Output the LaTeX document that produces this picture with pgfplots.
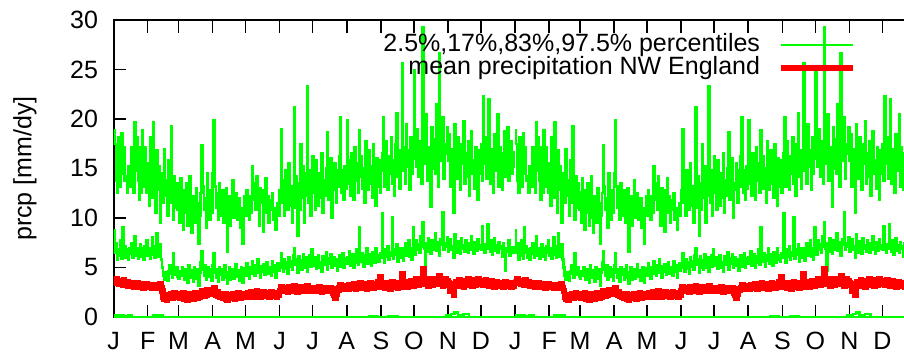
\documentclass[border=0pt]{standalone}
\usepackage{fontspec}
\setmainfont{Liberation Sans}
\usepackage{pgfplots}
\usepackage{pgfplotstable}
\pgfplotsset{compat=1.18}
\definecolor{pgreen}{RGB}{0,255,0}
\definecolor{pred}{RGB}{255,0,0}

% 97.5% percentile, daily, one year
\pgfplotstableread{
y
18.9
17.5
13.8
12.5
18.2
14.2
13.2
18.6
14.5
17.2
13.8
14.2
12.5
15.2
14.2
13.2
17.2
15.5
12.5
19.7
14.8
18.2
13.8
11.8
17.2
12.5
18.9
13.2
17.2
14.8
12.5
15.5
11.2
18.2
13.8
12.0
19.7
14.2
10.5
16.8
12.8
15.2
9.5
14.5
13.2
11.5
17.0
12.2
13.8
10.2
15.8
11.5
19.3
12.8
9.8
14.2
11.0
13.5
10.8
12.6
9.5
14.0
11.2
8.8
12.8
10.5
13.5
9.2
11.8
14.2
10.0
8.5
12.2
10.8
9.5
13.0
11.5
7.4
10.2
12.5
17.4
13.2
10.8
12.0
9.0
14.5
11.2
9.8
12.8
10.5
14.5
19.9
13.2
11.0
12.5
9.8
13.5
10.2
11.8
12.8
9.5
11.5
13.0
6.6
10.8
12.2
9.2
11.5
13.8
10.0
11.2
12.5
9.8
10.5
12.0
9.0
11.0
7.4
10.8
12.2
10.2
12.8
11.0
9.8
12.2
10.5
15.2
11.8
13.5
10.8
14.2
12.0
9.2
13.0
11.5
12.8
8.6
11.2
14.0
10.5
12.2
9.5
11.8
10.8
12.5
9.8
11.0
8.8
10.5
11.5
10.2
12.8
19.0
11.5
13.8
10.2
14.8
12.2
10.8
15.5
11.2
13.2
9.5
12.5
21.2
11.0
14.2
8.2
13.5
10.8
17.5
12.0
15.2
9.5
14.5
12.2
23.3
11.5
14.8
10.2
13.5
16.2
12.5
10.8
15.8
13.0
11.2
14.5
12.0
16.5
10.5
13.8
12.2
15.0
18.7
11.8
14.2
16.0
10.0
13.5
12.8
15.5
11.5
14.8
13.2
16.2
20.2
12.5
14.8
11.8
15.2
13.0
19.9
13.5
15.8
12.2
16.5
14.0
11.8
17.2
13.8
15.5
12.5
18.9
14.2
16.2
13.0
15.0
11.5
17.8
14.5
12.8
16.8
13.5
15.2
12.0
17.5
14.8
11.2
16.0
13.2
15.8
12.5
14.8
16.5
20.2
13.2
17.8
15.0
12.8
16.2
14.5
18.2
13.5
15.8
12.2
17.5
20.6
14.2
16.8
13.0
15.5
25.6
14.8
17.2
13.5
19.5
15.2
16.8
12.8
18.2
14.5
16.0
24.9
17.5
15.2
19.0
14.2
17.8
16.0
13.5
29.3
18.5
15.5
20.5
13.8
17.2
16.8
11.1
19.2
15.0
18.0
14.5
21.5
16.2
13.2
26.6
18.8
15.8
20.2
14.0
17.5
16.5
19.2
15.8
18.5
13.2
17.0
14.8
10.5
19.5
16.2
14.0
18.2
15.2
12.8
17.5
15.5
19.8
13.5
16.5
14.2
17.8
12.2
16.0
18.8
14.5
15.8
13.0
17.2
15.0
11.8
16.8
14.5
17.5
13.8
22.3
15.5
18.2
14.0
16.8
22.0
13.5
17.0
15.2
12.5
18.5
14.8
16.2
20.5
13.2
17.2
15.0
12.8
16.5
18.8
14.2
15.5
19.2
13.8
16.0
17.8
14.5
15.2
16.8
}\tabhi

% 83% percentile
\pgfplotstableread{
y
8.8
6.5
7.5
5.8
6.8
6.2
7.8
5.9
9.1
6.5
7.2
6.0
6.8
5.8
7.0
6.4
7.5
6.0
6.8
8.2
6.2
7.0
5.9
6.6
7.4
6.1
6.9
5.8
7.2
6.5
7.8
6.2
7.0
5.9
6.8
8.1
6.3
6.0
7.2
8.5
6.1
6.6
7.4
5.8
5.0
4.2
3.8
4.5
4.2
3.7
4.6
5.2
4.4
4.0
6.4
4.8
4.3
5.0
4.1
3.9
4.6
4.2
5.0
4.4
3.8
4.8
4.5
3.5
5.2
4.0
4.7
4.3
3.6
5.0
4.4
3.9
4.8
3.2
4.5
5.5
6.6
4.8
4.2
5.2
3.8
4.6
5.0
4.1
4.8
3.7
5.2
6.4
4.5
4.0
4.8
3.6
5.0
4.3
4.8
3.8
4.6
5.2
4.0
3.4
4.5
5.0
3.8
4.4
4.8
3.9
4.6
5.3
4.1
4.7
3.7
4.5
5.0
3.5
4.3
4.9
4.2
5.4
4.6
3.9
5.0
4.4
5.6
4.8
4.2
5.2
4.5
5.8
4.7
4.0
5.1
4.6
5.3
4.3
4.9
5.5
4.4
5.0
4.8
4.2
5.6
4.6
5.2
4.0
4.9
5.4
4.7
5.0
6.4
5.2
4.6
5.8
4.9
5.5
4.4
6.0
5.1
5.6
4.8
6.2
7.0
5.3
5.8
4.5
6.1
5.0
5.7
4.8
6.3
5.4
5.0
6.0
4.6
5.5
6.2
5.1
6.8
5.8
5.2
6.0
4.9
5.6
6.2
5.0
5.5
4.6
6.1
5.3
5.8
6.5
4.8
5.9
5.4
6.3
5.0
5.7
6.0
5.2
5.8
4.7
5.5
6.2
5.1
5.6
6.4
5.0
5.9
5.4
6.0
5.4
6.6
5.2
5.8
6.3
5.0
6.1
5.5
6.8
5.3
9.1
6.0
5.6
6.4
5.1
6.2
5.7
6.9
5.4
6.3
5.8
5.2
6.5
6.0
5.5
7.0
5.8
6.2
5.6
6.4
6.0
10.5
6.4
5.5
6.8
6.1
7.2
5.8
6.5
6.2
10.1
5.9
6.8
6.3
7.4
5.6
6.6
7.0
6.0
6.9
5.7
6.7
7.5
6.2
6.4
7.8
6.1
6.9
5.8
9.1
7.0
6.3
7.8
6.8
7.4
6.5
8.2
7.1
9.6
6.9
4.7
7.5
6.6
8.0
7.2
6.4
7.8
6.8
7.3
8.5
6.7
7.6
7.0
6.2
7.9
7.3
10.6
6.8
7.5
7.1
8.1
6.6
7.4
7.9
6.8
7.2
6.0
8.4
7.0
6.5
7.7
7.1
6.4
8.0
6.9
7.3
6.6
7.8
7.2
6.5
7.5
6.8
8.2
7.0
6.4
7.6
7.1
6.7
7.9
6.9
7.3
6.8
9.2
7.0
6.5
7.4
6.9
9.4
7.2
6.6
7.8
6.3
7.1
8.0
6.7
7.3
6.5
7.6
6.9
7.2
6.1
7.5
6.8
4.7
7.0
6.6
7.8
6.2
7.1
6.8
6.5
7.2
}\tabmid

% mean precipitation
\pgfplotstableread{
y
3.8
3.5
3.9
3.4
3.6
3.3
3.7
3.4
3.2
3.8
3.5
3.3
3.6
3.1
3.4
3.2
3.5
3.3
3.0
3.4
3.2
3.5
3.1
3.3
3.0
3.4
3.2
2.9
3.3
3.1
3.4
3.2
3.0
3.3
3.1
2.9
3.2
3.0
3.3
3.1
2.9
3.2
3.4
3.0
2.6
2.0
1.8
2.1
1.7
1.9
2.2
2.0
2.3
1.9
2.2
2.4
2.1
2.0
2.3
2.1
1.9
2.3
2.0
2.4
1.8
2.2
2.0
1.7
2.1
2.3
1.9
2.2
1.8
2.0
2.4
2.1
1.9
2.2
2.0
2.3
2.6
2.4
2.1
2.5
2.2
2.7
2.4
2.3
2.6
2.5
2.6
3.0
2.4
2.2
2.5
2.1
2.3
2.0
2.2
1.9
2.1
2.3
1.8
1.7
2.0
2.2
1.9
2.1
2.3
2.0
1.8
2.2
2.0
2.4
2.1
1.9
2.3
2.0
2.2
2.1
2.3
2.0
2.4
2.2
2.1
2.5
2.3
2.0
2.4
2.2
2.6
2.1
2.3
2.0
2.4
2.2
2.5
2.1
2.3
2.4
2.2
2.0
2.3
2.5
2.1
2.4
2.2
2.3
2.0
2.4
2.2
2.6
3.1
2.8
2.6
3.0
2.7
2.9
2.5
3.1
2.8
2.6
3.0
2.7
3.2
2.8
2.9
2.5
3.0
2.7
3.1
2.8
2.6
3.0
2.9
2.7
3.2
2.8
2.6
3.0
2.9
2.7
3.0
2.8
2.6
2.9
2.7
3.1
2.8
2.5
2.9
2.7
3.0
2.6
2.8
3.0
2.7
2.9
2.6
2.4
2.2
1.9
2.3
2.8
2.7
3.0
3.3
2.8
3.1
2.9
3.2
3.0
3.1
2.8
3.3
3.0
3.2
2.9
3.4
3.1
2.8
3.3
3.0
3.2
3.5
2.9
3.1
3.3
3.0
3.4
2.8
3.2
3.1
3.5
3.0
3.3
2.9
3.2
3.4
3.0
3.6
3.1
4.1
3.3
3.0
3.4
3.2
2.9
3.5
3.1
3.3
2.8
3.2
3.6
3.0
3.4
3.1
3.3
2.9
3.5
3.2
3.0
4.4
3.4
3.1
3.6
3.3
3.0
3.5
3.2
3.7
3.4
3.1
3.6
3.3
3.9
3.5
3.2
3.8
3.4
3.7
4.9
3.5
3.3
3.8
3.6
3.1
3.9
3.4
3.7
3.2
3.6
3.9
3.3
3.7
3.5
4.2
3.4
3.8
3.1
3.6
3.9
3.4
3.7
3.5
3.2
2.6
3.0
3.4
2.2
3.3
3.6
3.1
3.5
3.8
3.2
3.6
3.4
3.0
3.7
3.3
3.5
3.9
3.2
3.6
3.4
3.1
3.8
3.5
3.2
3.6
3.9
3.3
3.5
3.4
3.7
3.2
3.5
3.8
3.3
3.6
3.1
3.4
3.7
3.2
3.5
3.0
3.4
3.6
3.3
3.1
3.5
3.2
3.4
3.0
3.3
3.6
3.1
3.4
3.2
3.5
3.0
3.3
3.1
3.4
}\tabmean

% 17% percentile (near zero)
\pgfplotstableread{
x y
0 0.15
3 0.05
5 0.2
9 0.1
13 0.2
17 0
36 0.15
41 0.2
45 0
232 0.1
240 0
250 0.12
258 0
302 0.15
307 0.3
310 0.45
313 0.2
318 0.3
323 0
364 0
}\tablow

\begin{document}
\begin{tikzpicture}[font=\fontsize{12.5bp}{15bp}\selectfont]
\begin{axis}[
  at={(0,0)}, anchor=south west,
  scale only axis, width=401.5bp, height=148.5bp,
  xmin=0, xmax=730, ymin=0, ymax=30,
  xtick={0,31,59,90,120,151,181,212,243,273,304,334,365,396,424,455,485,516,546,577,608,638,669,699},
  xticklabels={J,F,M,A,M,J,J,A,S,O,N,D,J,F,M,A,M,J,J,A,S,O,N,D},
  ytick={0,5,10,15,20,25,30},
  tick align=inside, major tick length=6.25bp,
  axis line style={line width=1bp},
  every tick/.style={black, line width=0.8bp},
  xticklabel style={yshift=-4bp},
  yticklabel style={xshift=-4.3bp},
  /pgf/number format/assume math mode=true,
  ylabel={prcp [mm/dy]},
  every axis y label/.style={at={(axis description cs:0,0.5)}, xshift=-44.3bp, rotate=90, anchor=center},
  legend style={draw=none, fill=none, at={(rel axis cs:0.9246,0.955)}, anchor=north east,
    inner sep=0pt, nodes={inner sep=0pt, text height=9bp, text depth=2.5bp},
    row sep=0pt, column sep=9bp},
  legend cell align=right,
  legend plot pos=right,
  legend image code/.code={\draw[#1] (0bp,0bp) -- (36bp,0bp);},
]
\addlegendimage{pgreen, line width=1.1bp}
\addlegendentry{2.5\%,17\%,83\%,97.5\% percentiles}
\addlegendimage{pred, line width=2.8bp}
\addlegendentry{mean precipitation NW England}

\addplot[pgreen, line width=1.2bp, const plot, forget plot] table[x expr=\coordindex, y=y]{\tabhi};
\addplot[pgreen, line width=1.2bp, const plot, forget plot] table[x expr=\coordindex+365, y=y]{\tabhi};
\addplot[pgreen, line width=1.2bp, const plot, forget plot] table[x expr=\coordindex, y=y]{\tabmid};
\addplot[pgreen, line width=1.2bp, const plot, forget plot] table[x expr=\coordindex+365, y=y]{\tabmid};
\addplot[pgreen, line width=1.2bp, const plot, forget plot] table[x=x, y=y]{\tablow};
\addplot[pgreen, line width=1.2bp, const plot, forget plot] table[x expr=\thisrow{x}+365, y=y]{\tablow};
\addplot[pgreen, line width=1.2bp, forget plot] coordinates {(0,0) (730,0)};
\addplot[pred, line width=2.8bp, const plot, forget plot] table[x expr=\coordindex, y=y]{\tabmean};
\addplot[pred, line width=2.8bp, const plot, forget plot] table[x expr=\coordindex+365, y=y]{\tabmean};
\end{axis}
\pgfresetboundingbox
\useasboundingbox (-56.8bp,-18bp) rectangle (395.2bp,158.5bp);
\end{tikzpicture}
\end{document}
